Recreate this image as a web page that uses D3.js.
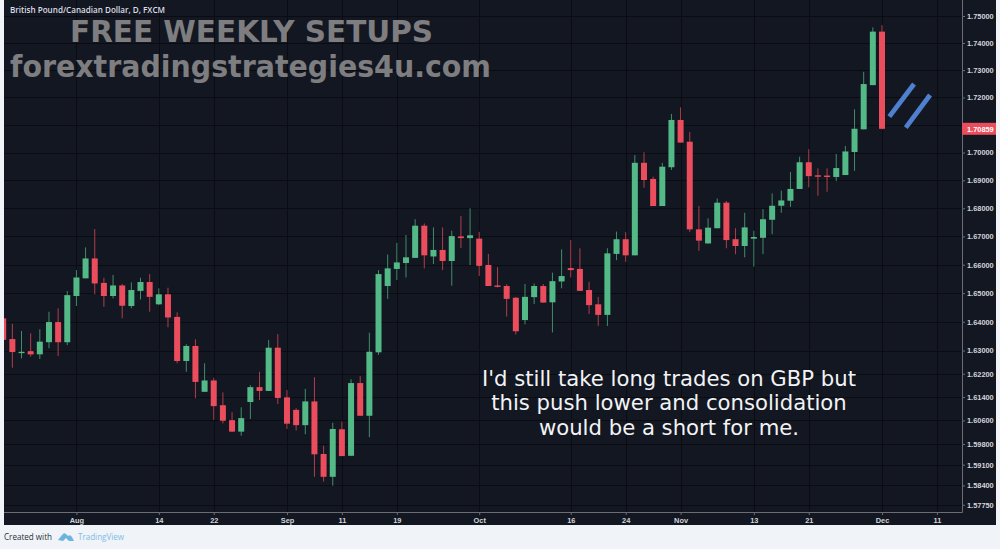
<!DOCTYPE html>
<html>
<head>
<meta charset="utf-8">
<script src="https://cdn.jsdelivr.net/npm/d3@7"></script>
<style>
html,body{margin:0;padding:0;background:#f0f3f8;overflow:hidden}
svg{display:block}
</style>
</head>
<body>
<svg id="c" width="1000" height="549"></svg>
<script>
const opens = [1.6412,1.6340,1.6292,1.6298,1.6287,1.6329,1.6399,1.6329,1.6490,1.6552,1.6622,1.6536,1.6490,1.6527,1.6455,1.6508,1.6539,1.6461,1.6496,1.6417,
1.6264,1.6316,1.6158,1.6197,1.6112,1.6061,1.6022,1.6123,1.6174,1.6161,1.6310,1.6139,1.6096,1.6044,1.6125,1.5946,1.5869,1.6030,1.5940,1.6188,
1.6076,1.6294,1.6525,1.6585,1.6606,1.6624,1.6738,1.6629,1.6652,1.6613,1.6700,1.6694,1.6692,1.6599,1.6527,1.6525,1.6484,1.6406,1.6486,1.6525,
1.6468,1.6541,1.6588,1.6585,1.6511,1.6461,1.6424,1.6638,1.6690,1.6633,1.6963,1.6905,1.6808,1.6947,1.7118,1.7039,1.6725,1.6675,1.6729,1.6820,
1.6690,1.6666,1.6692,1.6695,1.6759,1.6809,1.6827,1.6869,1.6965,1.6918,1.6917,1.6912,1.6919,1.7002,1.7084,1.7245,1.7442];
const highs = [1.6412,1.6393,1.6368,1.6360,1.6374,1.6435,1.6447,1.6507,1.6581,1.6661,1.6726,1.6554,1.6564,1.6532,1.6538,1.6554,1.6567,1.6517,1.6519,1.6433,
1.6322,1.6339,1.6256,1.6206,1.6156,1.6088,1.6105,1.6181,1.6227,1.6337,1.6357,1.6164,1.6102,1.6168,1.6208,1.5974,1.6052,1.6056,1.6201,1.6212,
1.6362,1.6581,1.6636,1.6677,1.6705,1.6761,1.6746,1.6732,1.6732,1.6720,1.6772,1.6800,1.6716,1.6638,1.6591,1.6531,1.6487,1.6532,1.6534,1.6532,
1.6572,1.6654,1.6687,1.6658,1.6540,1.6487,1.6658,1.6717,1.6715,1.6991,1.7001,1.6913,1.6963,1.7140,1.7164,1.7074,1.6808,1.6764,1.6835,1.6826,
1.6729,1.6784,1.6720,1.6797,1.6853,1.6863,1.6930,1.6985,1.7012,1.6943,1.6943,1.6995,1.7024,1.7157,1.7294,1.7458,1.7466];
const lows = [1.6337,1.6241,1.6273,1.6279,1.6271,1.6308,1.6281,1.6319,1.6455,1.6552,1.6496,1.6452,1.6482,1.6412,1.6447,1.6478,1.6435,1.6458,1.6381,1.6256,
1.6227,1.6136,1.6158,1.6062,1.6050,1.6020,1.6008,1.6065,1.6130,1.6161,1.6116,1.6031,1.6026,1.6013,1.5869,1.5853,1.5839,1.5939,1.5939,1.6076,
1.6003,1.6285,1.6480,1.6546,1.6555,1.6624,1.6587,1.6602,1.6581,1.6526,1.6659,1.6599,1.6560,1.6525,1.6520,1.6418,1.6356,1.6391,1.6462,1.6467,
1.6363,1.6517,1.6555,1.6508,1.6427,1.6386,1.6385,1.6616,1.6610,1.6633,1.6873,1.6808,1.6808,1.6937,1.7036,1.6716,1.6649,1.6675,1.6729,1.6658,
1.6637,1.6626,1.6593,1.6637,1.6708,1.6784,1.6805,1.6869,1.6875,1.6845,1.6859,1.6897,1.6919,1.6934,1.7084,1.7245,1.7084];
const closes = [1.6337,1.6295,1.6296,1.6287,1.6331,1.6399,1.6329,1.6493,1.6555,1.6622,1.6534,1.6490,1.6527,1.6456,1.6511,1.6539,1.6487,1.6496,1.6415,1.6264,
1.6316,1.6192,1.6197,1.6109,1.6059,1.6022,1.6068,1.6174,1.6161,1.6310,1.6137,1.6049,1.6044,1.6125,1.5945,1.5869,1.6031,1.5939,1.6188,1.6076,
1.6296,1.6567,1.6587,1.6608,1.6626,1.6738,1.6633,1.6652,1.6613,1.6701,1.6694,1.6704,1.6596,1.6525,1.6522,1.6480,1.6367,1.6487,1.6525,1.6467,
1.6542,1.6560,1.6581,1.6508,1.6458,1.6424,1.6640,1.6690,1.6633,1.6963,1.6901,1.6808,1.6949,1.7118,1.7036,1.6725,1.6685,1.6731,1.6820,1.6687,
1.6666,1.6732,1.6698,1.6761,1.6809,1.6828,1.6869,1.6965,1.6915,1.6914,1.6912,1.6944,1.7004,1.7086,1.7249,1.7442,1.70859];

const priceTicks = [1.75,1.74,1.73,1.72,1.71,1.70,1.69,1.68,1.67,1.66,1.65,1.64,1.63,1.622,1.614,1.606,1.598,1.591,1.584,1.5775];
const dateTickIndex = [8,17,23,31,37,43,52,62,68,74,82,88,96,102];
const dateTickLabels = ["Aug","14","22","Sep","11","19","Oct","16","24","Nov","13","21","Dec","11"];
const lastPrice = 1.70859;
const trendA = [[96.8,1.7130],[99.5,1.7249]];
const trendB = [[98.6,1.7090],[101.25,1.7209]];
const symbolLabel = "British Pound/Canadian Dollar, D, FXCM";
const headline = ["FREE WEEKLY SETUPS","forextradingstrategies4u.com"];
const note = ["I'd still take long trades on GBP but","this push lower and consolidation","would be a short for me."];

const BG="#131722", GRID="#0a0c11", UP="#53b987", DOWN="#eb4d5c", AXIS="#6a6d75", TXT="#d2d5da";
const svg=d3.select("#c");
const L=4,R=962,B=512,OUTR=996,OUTB=525;

svg.append("rect").attr("x",L).attr("y",0).attr("width",OUTR-L).attr("height",OUTB).attr("fill",BG);
svg.append("defs").append("clipPath").attr("id","plot").append("rect").attr("x",L).attr("y",0).attr("width",R-L).attr("height",B);

const x=d3.scaleLinear().domain([0,96]).range([3.2,882]);
const y=d3.scaleLog().domain([1.75,1.5775]).range([16,504.8]);

// grid
const grid=svg.append("g");
grid.selectAll("line.h").data(priceTicks).join("line").attr("class","h")
  .attr("x1",L).attr("x2",R).attr("y1",d=>Math.round(y(d))+.5).attr("y2",d=>Math.round(y(d))+.5).attr("stroke",GRID);
grid.selectAll("line.v").data(dateTickIndex).join("line").attr("class","v")
  .attr("y1",0).attr("y2",B).attr("x1",d=>Math.round(x(d))+.5).attr("x2",d=>Math.round(x(d))+.5).attr("stroke",GRID);

// candles
const plot=svg.append("g").attr("clip-path","url(#plot)");
const candles=plot.selectAll("g").data(opens.map((o,i)=>({i,o,h:highs[i],l:lows[i],c:closes[i]}))).join("g");
candles.append("line").attr("x1",d=>x(d.i)).attr("x2",d=>x(d.i)).attr("y1",d=>y(d.h)).attr("y2",d=>y(d.l))
  .attr("stroke",d=>d.c>=d.o?UP:DOWN).attr("stroke-width",1).attr("stroke-opacity",.72);
candles.append("rect").attr("x",d=>x(d.i)-3).attr("width",6)
  .attr("y",d=>y(Math.max(d.o,d.c))).attr("height",d=>Math.max(1.4,Math.abs(y(d.o)-y(d.c))))
  .attr("fill",d=>d.c>=d.o?UP:DOWN);

// blue trend strokes
const lineGen=d3.line().x(d=>x(d[0])).y(d=>y(d[1]));
plot.selectAll("path.t").data([trendA,trendB]).join("path").attr("class","t")
  .attr("d",lineGen).attr("fill","none").attr("stroke","#4f7fcf").attr("stroke-width",4.8);

// axes
const yAxis=d3.axisRight(y).tickValues(priceTicks).tickFormat(d3.format(".5f")).tickSize(3).tickPadding(2);
const gy=svg.append("g").attr("transform",`translate(${R},0)`).call(yAxis);
const xAxis=d3.axisBottom(x).tickValues(dateTickIndex).tickFormat((d,i)=>dateTickLabels[i]).tickSize(3).tickPadding(3);
const gx=svg.append("g").attr("transform",`translate(0,${B})`).call(xAxis);
[gy,gx].forEach(g=>{
  g.selectAll(".domain").remove();
  g.selectAll("line").attr("stroke",AXIS);
  g.selectAll("text").attr("fill",TXT).attr("font-family","'Liberation Sans',Arial,sans-serif").attr("font-size",7.4).attr("font-weight","bold");
});
svg.append("line").attr("x1",R+.5).attr("x2",R+.5).attr("y1",0).attr("y2",B+.5).attr("stroke",AXIS);
svg.append("line").attr("x1",L).attr("x2",R+.5).attr("y1",B+.5).attr("y2",B+.5).attr("stroke",AXIS);

// last price tag
const ly=y(lastPrice);
svg.append("rect").attr("x",R).attr("y",ly-6).attr("width",OUTR-R).attr("height",12).attr("fill",DOWN);
svg.append("text").attr("x",967).attr("y",ly+3).attr("fill","#fff").attr("font-family","'Liberation Sans',Arial,sans-serif").attr("font-size",7.4).attr("font-weight","bold").text(d3.format(".5f")(lastPrice));

// texts
svg.append("text").attr("x",10).attr("y",13).attr("fill","#dcdee2").attr("font-family","'Open Sans',sans-serif").attr("font-size",8.4).attr("font-weight",600).attr("textLength",155).attr("lengthAdjust","spacingAndGlyphs").text(symbolLabel);
svg.append("text").attr("x",70).attr("y",42).attr("fill","#7e7e80").attr("font-family","'DejaVu Sans',sans-serif").attr("font-weight","bold").attr("font-size",30).attr("textLength",363).attr("lengthAdjust","spacingAndGlyphs").text(headline[0]);
svg.append("text").attr("x",10).attr("y",77).attr("fill","#7e7e80").attr("font-family","'DejaVu Sans',sans-serif").attr("font-weight","bold").attr("font-size",30).attr("textLength",481).attr("lengthAdjust","spacingAndGlyphs").text(headline[1]);
svg.selectAll("text.n").data(note).join("text").attr("class","n").attr("x",669).attr("y",(d,i)=>386+i*24.3)
  .attr("text-anchor","middle").attr("fill","#f2f3f5").attr("font-family","'DejaVu Sans',sans-serif").attr("font-size",21.2).text(d=>d);

// footer
svg.append("text").attr("x",4).attr("y",540).attr("fill","#2a2e39").attr("font-family","'Open Sans',sans-serif").attr("font-size",8.6).attr("textLength",48).attr("lengthAdjust","spacingAndGlyphs").text("Created with");
svg.append("path").attr("transform","translate(58,532)")
  .attr("d","M0 8 L4 3 Q6 0 8 2 L10 4 Q12 2 14 5 L16 9 L11 9 L8 6 L5 9 Z").attr("fill","#6db5df");
svg.append("text").attr("x",78).attr("y",540).attr("fill","#7dbde3").attr("font-family","'Open Sans',sans-serif").attr("font-size",9).attr("textLength",46).attr("lengthAdjust","spacingAndGlyphs").text("TradingView");
</script>
</body>
</html>
